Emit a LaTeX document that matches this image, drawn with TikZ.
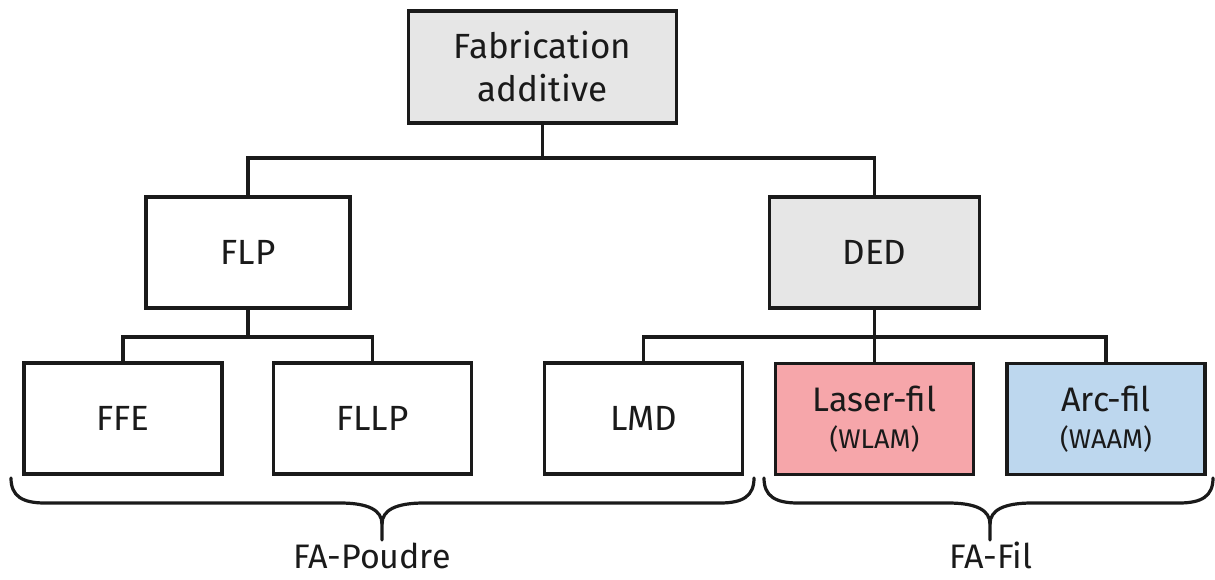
\documentclass[tikz,border=0pt]{standalone}
\usepackage{fontspec}
\setmainfont{Fira Sans}
\definecolor{boxgray}{HTML}{E6E6E6}
\definecolor{boxpink}{HTML}{F6A6AA}
\definecolor{boxblue}{HTML}{BDD7EE}
\definecolor{ink}{HTML}{1A1A1A}
\begin{document}
\begin{tikzpicture}[x=1pt,y=-1pt,
  box/.style={draw=ink,line width=3.6pt,minimum width=198pt,minimum height=111pt,
    inner sep=0pt,align=center,text=ink,font=\fontsize{35}{43}\selectfont},
  link/.style={draw=ink,line width=3.6pt},
  brace/.style={draw=ink,line width=3.2pt,line cap=round,line join=round},
  lbl/.style={text=ink,font=\fontsize{34}{40}\selectfont,anchor=base,inner sep=0pt}]
\useasboundingbox (0,0) rectangle (1215,579);
\node[box,fill=boxgray,minimum width=268pt,minimum height=112pt] (top) at (542.5,67) {Fabrication\\additive};
\node[box,minimum width=204pt] (flp) at (248,252.5) {FLP};
\node[box,fill=boxgray,minimum width=210pt] (ded) at (874.5,252.5) {DED};
\node[box] (ffe) at (123,418.5) {FFE};
\node[box] (fllp) at (372.5,418.5) {FLLP};
\node[box] (lmd) at (643.5,418.5) {LMD};
\node[box,fill=boxpink] (las) at (874.5,419) {{\fontsize{34}{38}\selectfont Laser-fil}\\[-6pt]{\fontsize{27}{32}\selectfont (WLAM)}};
\node[box,fill=boxblue] (arc) at (1106,419) {{\fontsize{34}{38}\selectfont Arc-fil}\\[-6pt]{\fontsize{27}{32}\selectfont (WAAM)}};
\coordinate (j1) at (542.5,158);
\coordinate (j2) at (248,337);
\coordinate (j3) at (874.5,337);
\draw[link] (top.south) -- (j1);
\draw[link] (flp.north) |- (j1) -| (ded.north);
\draw[link] (flp.south) -- (j2);
\draw[link] (ffe.north) |- (j2) -| (fllp.north);
\draw[link] (ded.south) -- (las.north);
\draw[link] (lmd.north) |- (j3) -| (arc.north);
% braces
\draw[brace] (11,478) .. controls (11,496) and (22,503) .. (45,503) -- (340,503)
  .. controls (368,503) and (382,510) .. (382,524) -- (382,540);
\draw[brace] (754,478) .. controls (754,496) and (743,503) .. (720,503) -- (424,503)
  .. controls (396,503) and (382,510) .. (382,524);
\draw[brace] (764,478) .. controls (764,496) and (775,503) .. (798,503) -- (948,503)
  .. controls (976,503) and (990,510) .. (990,524) -- (990,540);
\draw[brace] (1213,478) .. controls (1213,496) and (1202,503) .. (1179,503) -- (1032,503)
  .. controls (1004,503) and (990,510) .. (990,524);
\node[lbl] (poudre) at (372,568) {FA-Poudre};
\node[lbl] (fil) at (991,568) {FA-Fil};
\end{tikzpicture}
\end{document}
